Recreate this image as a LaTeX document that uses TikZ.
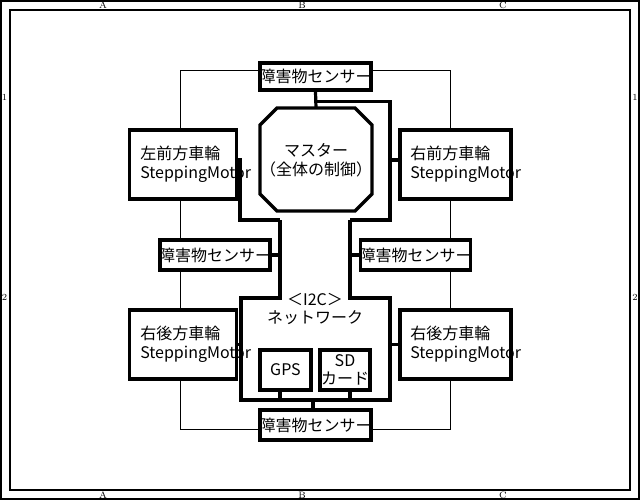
\documentclass[tikz,border=0pt]{standalone}
\usepackage{fontspec}
\newfontfamily\jp{Noto Sans CJK JP}
\begin{document}
\begin{tikzpicture}[x=0.75pt,y=0.75pt,yscale=-1,xscale=1,
  blk/.style={draw,line width=2.4pt,inner sep=0pt},
  bus/.style={line width=2.4pt},
  wire/.style={line width=0.75pt},
  lbl/.style={font=\jp\fontsize{12pt}{14pt}\selectfont,inner sep=0pt},
  edge/.style={font=\fontsize{7pt}{8pt}\selectfont,inner sep=0pt}]
\useasboundingbox (0,0) rectangle (640,500);

%Frame
\draw [line width=0.9pt] (1,1) rectangle (639,499);
\draw [line width=0.9pt] (10,10) rectangle (630,490);
\node[edge] (ta) at (103,5) {A};
\node[edge] (tb) at (302,5) {B};
\node[edge] (tc) at (503,5) {C};
\node[edge] (ba) at (103,495) {A};
\node[edge] (bb) at (302,495) {B};
\node[edge] (bc) at (503,495) {C};
\node[edge] (l1) at (4.5,97) {1};
\node[edge] (l2) at (4.5,297) {2};
\node[edge] (r1) at (635,97) {1};
\node[edge] (r2) at (635,297) {2};

%Sensors
\node[blk,minimum width=83.25pt,minimum height=20.25pt] (stop) at (315.5,76.5) {};
\node[lbl] at (stop) {障害物センサー};
\node[blk,minimum width=82.5pt,minimum height=22.5pt] (sleft) at (215,255) {};
\node[lbl] at (sleft) {障害物センサー};
\node[blk,minimum width=82.5pt,minimum height=22.5pt] (sright) at (415.5,255) {};
\node[lbl] at (sright) {障害物センサー};
\node[blk,minimum width=83.25pt,minimum height=22.5pt] (sbot) at (315.5,425) {};
\node[lbl] at (sbot) {障害物センサー};

%Wheels
\node[blk,minimum width=80.25pt,minimum height=51.75pt] (wlf) at (183,164.5) {};
\node[lbl,anchor=west,align=left] at (140,164.5) {左前方車輪\\SteppingMotor};
\node[blk,minimum width=83.25pt,minimum height=51.75pt] (wrf) at (455.5,164.5) {};
\node[lbl,anchor=west,align=left] at (410,164.5) {右前方車輪\\SteppingMotor};
\node[blk,minimum width=80.25pt,minimum height=51.75pt] (wlr) at (183,344.5) {};
\node[lbl,anchor=west,align=left] at (140,344.5) {右後方車輪\\SteppingMotor};
\node[blk,minimum width=83.25pt,minimum height=51.75pt] (wrr) at (455.5,344.5) {};
\node[lbl,anchor=west,align=left] at (410,344.5) {右後方車輪\\SteppingMotor};

%Master
\draw [line width=2.4pt] (277,108) -- (355,108) -- (372,125) -- (372,194) -- (355,211) -- (277,211) -- (260,194) -- (260,125) -- cycle;
\coordinate (mtop) at (316,108);
\node[lbl,align=center] (master) at (316,160) {マスター\\（全体の制御）};

%Network
\draw [bus] (280,220) -- (280,298) -- (241,298) -- (241,400) -- (390,400) -- (390,298) -- (350,298) -- (350,220);
\node[lbl,align=center] (net) at (315,309) {＜I2C＞\\ネットワーク};
\node[blk,minimum width=38.25pt,minimum height=30pt] (gps) at (285.5,370) {};
\node[lbl] at (gps) {GPS};
\node[blk,minimum width=37.5pt,minimum height=30pt] (sd) at (345,370) {};
\node[lbl,align=center] at (sd) {SD\\カード};
\coordinate (nbot) at (313,400);

%Buses
\draw [bus] (stop.south) -- (mtop);
\draw [bus] (stop.south) -- ++(0,10) -| (390,220) -- (350,220);
\draw [bus] (wlf.east |- 0,160) -- (240,160) |- (280,220);
\draw [bus] (wrf.west |- 0,160) -- (390,160);
\draw [bus] (sleft.east) -- (280,255);
\draw [bus] (sright.west) -- (350,255);
\draw [bus] (wlr.east) -- (241,344.5);
\draw [bus] (wrr.west) -- (390,344.5);
\draw [bus] (gps.south -| 280,0) -- (280,400);
\draw [bus] (sd.south -| 350,0) -- (350,400);
\draw [bus] (nbot) -- (sbot.north -| nbot);

%Sensor loop
\draw [wire] (stop.west |- 0,70) -| (wlf.north -| 180,0);
\draw [wire] (wlf.south -| 180,0) -- (sleft.north -| 180,0);
\draw [wire] (sleft.south -| 180,0) -- (wlr.north -| 180,0);
\draw [wire] (wlr.south -| 180,0) |- (sbot.west |- 0,429);
\draw [wire] (stop.east |- 0,70) -| (wrf.north -| 450,0);
\draw [wire] (wrf.south -| 450,0) -- (sright.north -| 450,0);
\draw [wire] (sright.south -| 450,0) -- (wrr.north -| 450,0);
\draw [wire] (wrr.south -| 450,0) |- (sbot.east |- 0,429);
\end{tikzpicture}
\end{document}
